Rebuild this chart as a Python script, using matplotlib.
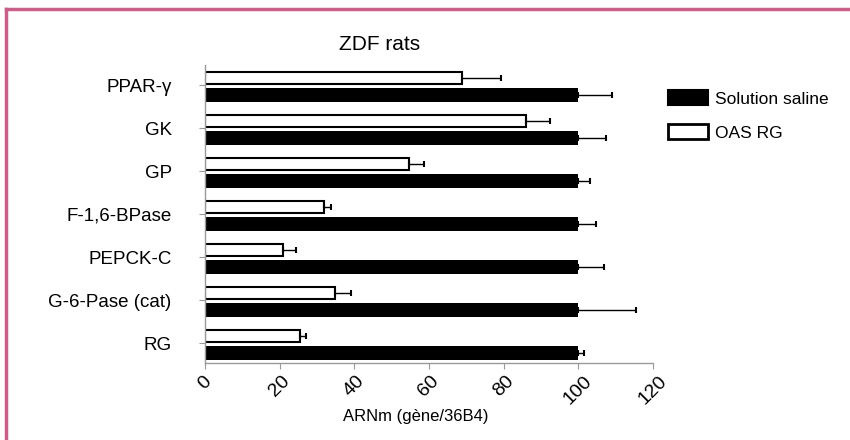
import matplotlib.pyplot as plt
import numpy as np
from matplotlib.lines import Line2D

plt.rcParams['font.family'] = ['Liberation Sans', 'DejaVu Sans']

genes = ['PPAR-γ', 'GK', 'GP', 'F-1,6-BPase', 'PEPCK-C', 'G-6-Pase (cat)', 'RG']
saline = [100, 100, 100, 100, 100, 100, 100]
saline_err = [9, 7.4, 3, 4.7, 6.9, 15.4, 1.5]
oas = [68.8, 86, 54.7, 31.9, 20.9, 34.8, 25.4]
oas_err = [10.5, 6.5, 4, 1.9, 3.5, 4.3, 1.7]
xticks = [0, 20, 40, 60, 80, 100, 120]

fig = plt.figure(figsize=(8.5, 4.4), dpi=100)
ax = fig.add_axes([0.2412, 0.175, 0.527, 0.677])

pos = np.arange(len(genes))
ekw = dict(ecolor='black', elinewidth=1, capsize=2.5, capthick=1.5)
zeros = np.zeros(len(genes))
ax.barh(pos + 0.235, saline, height=0.32, color='black',
        xerr=[zeros, saline_err], error_kw=ekw, label='Solution saline')
ax.barh(pos - 0.165, oas, height=0.28, color='white', edgecolor='black',
        linewidth=1.5, xerr=[zeros, oas_err], error_kw=ekw, label='OAS RG')

ax.set_ylim(len(genes) - 1 + 0.465, -0.465)
ax.set_xlim(0, 120)
ax.set_yticks(pos)
ax.set_yticklabels(genes, fontsize=13.5)
ax.set_xticks(xticks)
ax.set_xticklabels([str(t) for t in xticks], rotation=45, fontsize=14)
ax.tick_params(axis='y', length=4, color='#999999', pad=20)
ax.tick_params(axis='x', length=4, color='#999999', pad=3)
for s in ['top', 'right']:
    ax.spines[s].set_visible(False)
for s in ['left', 'bottom']:
    ax.spines[s].set_color('#999999')
    ax.spines[s].set_linewidth(1)

fig.text(380 / 850, 1 - 45 / 440, 'ZDF rats', fontsize=15, ha='center', va='center')
ax.set_xlabel('ARNm (gène/36B4)', fontsize=12)
ax.xaxis.set_label_coords((416 - 205) / 448, -0.155)

handles = [plt.Rectangle((0, 0), 1, 1, facecolor='black', edgecolor='black', linewidth=1.5),
           plt.Rectangle((0, 0), 1, 1, facecolor='white', edgecolor='black', linewidth=2)]
fig.legend(handles, ['Solution saline', 'OAS RG'], loc='upper left',
           bbox_to_anchor=(0.768, 0.83), frameon=False, fontsize=12.5,
           handlelength=2.3, handleheight=0.95, handletextpad=0.4, labelspacing=1.0)

# pink frame (top and left edges)
fig.add_artist(Line2D([0.0065, 0.0065], [0, 0.98], transform=fig.transFigure,
                      color='#c9608a', linewidth=2.5))
fig.add_artist(Line2D([0.0065, 1], [0.98, 0.98], transform=fig.transFigure,
                      color='#c9608a', linewidth=2.5))

fig.savefig('out.png', dpi=100)
